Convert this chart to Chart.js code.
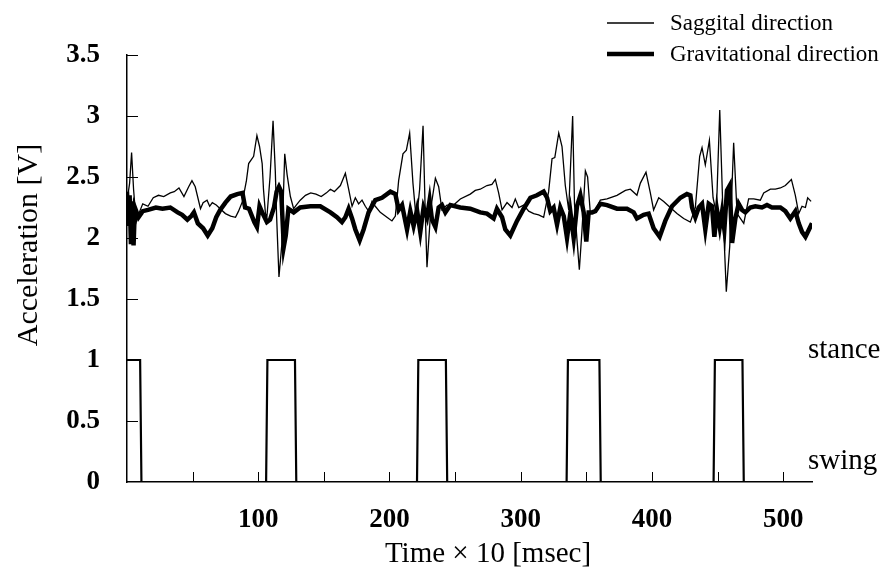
<!DOCTYPE html>
<html>
<head>
<meta charset="utf-8">
<title>Acceleration and gait phase</title>
<script src="https://cdn.jsdelivr.net/npm/chart.js@4.4.1/dist/chart.umd.min.js"></script>
<style>
    html, body { margin: 0; padding: 0; background: #fff; }
    canvas { display: block; }
</style>
</head>
<body>
<canvas id="gaitChart" width="892" height="577"></canvas>
<script>
// Sagittal acceleration (thin line): time x10 msec / volts
const sagTime = [0, 2, 3.5, 5, 7, 9, 12, 16, 20, 24, 28, 33, 36, 39.6, 43.4, 47, 49.5, 52, 56, 58, 61, 63, 65, 68, 71, 75, 79, 82.7, 85, 88, 91, 92.7, 96.5, 99, 101, 103, 104, 105.5, 106.6, 109, 111.3, 113, 114, 115.8, 118, 120.2, 122, 124.5, 127, 129, 132, 136, 140, 144, 148,
    152, 155, 158, 162.6, 164.5, 166.4, 168.9, 171.5, 174, 176.5, 179.1, 181.6, 184.1, 186.7, 189.2, 193, 198.1, 201.9, 204.5, 207, 210.3, 212.9, 215.4, 217.9, 220.5, 223, 225.6, 227.3, 228.6, 231.6, 235, 237.5, 240, 243.8, 248.9, 254, 261.6, 265.4, 269.2, 274.3, 278.1, 280.7, 283.2, 285.8, 289.6, 293.4, 295.9, 298.5, 302.3, 306.1, 309.9, 313.7, 317.5, 321.3, 323.9, 326, 329, 331.5, 334, 336.6, 339.6, 341, 342.8, 344.7, 346.7, 349.3, 351, 353.1, 356.9, 360.7, 365.8, 373.4, 379.8, 383.6, 388.6, 391.2, 395.5, 398.8, 401.3, 405.2, 409, 414, 419.1, 424.2, 429.3, 433.1, 436.4, 438.2, 440.7, 443.8, 446.6, 449.1, 451.7, 454, 456.7, 459.3, 462.3, 464.9, 467.4, 470, 473.7, 477.6, 482.6, 485.2, 490.3, 494.1, 497.9, 501.7, 506.3, 509.3, 511.9, 514.4, 517, 518.7, 521.3];
const sagValue = [2.30, 2.45, 2.70, 2.40, 2.13, 2.20, 2.28, 2.26, 2.33, 2.35, 2.34, 2.37, 2.38, 2.41, 2.34, 2.42, 2.47, 2.42, 2.24, 2.29, 2.31, 2.26, 2.29, 2.27, 2.24, 2.20, 2.18, 2.17, 2.22, 2.30, 2.47, 2.61, 2.67, 2.84, 2.75, 2.61, 2.40, 2.20, 2.17, 2.50, 2.96, 2.55, 2.18, 1.68, 1.95, 2.69, 2.52, 2.34, 2.24, 2.27, 2.31, 2.35, 2.37, 2.36, 2.34,
    2.37, 2.40, 2.38, 2.43, 2.48, 2.53, 2.40, 2.26, 2.33, 2.28, 2.31, 2.26, 2.22, 2.30, 2.26, 2.21, 2.17, 2.14, 2.18, 2.47, 2.69, 2.72, 2.86, 2.45, 2.14, 2.40, 2.92, 2.20, 1.76, 2.25, 2.49, 2.42, 2.23, 2.27, 2.27, 2.32, 2.36, 2.39, 2.40, 2.43, 2.44, 2.48, 2.37, 2.23, 2.29, 2.25, 2.32, 2.25, 2.27, 2.22, 2.20, 2.19, 2.17, 2.38, 2.65, 2.66, 2.86, 2.75, 2.43, 2.23, 3.00, 2.28, 2.00, 1.74, 2.06, 2.55, 2.50, 2.20, 2.23, 2.31, 2.32, 2.35, 2.39, 2.40, 2.35, 2.45, 2.54, 2.37, 2.23, 2.33, 2.30, 2.25, 2.20, 2.16, 2.13, 2.25, 2.67, 2.74, 2.60, 2.80, 2.33, 2.20, 3.05, 2.26, 1.56, 1.93, 2.78, 2.20, 2.16, 2.12, 2.32, 2.32, 2.31, 2.37, 2.40, 2.40, 2.41, 2.43, 2.48, 2.35, 2.20, 2.26, 2.25, 2.33, 2.30];

// Gravitational acceleration (thick line)
const gravTime = [0, 1, 2, 3, 4, 5, 6, 8.8, 12, 16, 22, 27, 33, 38.6, 42, 46, 49, 51, 54, 58, 61.5, 65, 68, 71, 75, 79, 84, 88, 90, 93, 97, 99, 101, 103, 106.6, 109, 112, 114, 115.8, 117.5, 119.5, 121, 123, 127, 132, 139.7, 147.3,
    155, 160, 163.8, 166.4, 168.9, 171.5, 174, 177.3, 180.3, 184.1, 189.2, 194.3, 200.7, 204.5, 207, 209.6, 213.4, 215.9, 218.4, 221, 223.5, 226, 228.6, 230.6, 232.4, 235, 237.5, 240, 242.6, 246.4, 254, 261.6, 269.2, 274.3, 279.4, 281.9, 285.8, 288.3, 292.1, 297.2, 302.3, 307.4, 312.4, 317.5, 320.1, 322.6, 325.1, 327.7, 330.2, 332.8, 335.3, 337.9, 340.4, 342.9, 345.5, 348, 350, 351.8, 354.4, 356.9, 360.7, 365.8, 373.4, 381, 386.1, 388.6, 393.7, 397.5, 401.3, 405.9, 410.2, 415.3, 421.7, 426.7, 429.3, 430.6, 433.1, 435.7, 438.2, 440.7, 443.3, 445.8, 447.6, 449.6, 451.7, 453.4, 455.2, 457.2, 459.3, 461.1, 463.6, 466.1, 468.7, 471.2, 475, 478.8, 483.9, 487.7, 491.5, 497.9, 501.7, 505.5, 509.3, 511.9, 514.4, 517, 522];
const gravValue = [2.38, 2.10, 2.35, 1.95, 2.30, 1.94, 2.25, 2.17, 2.22, 2.23, 2.25, 2.24, 2.25, 2.21, 2.19, 2.15, 2.18, 2.21, 2.12, 2.08, 2.02, 2.08, 2.17, 2.23, 2.29, 2.34, 2.36, 2.37, 2.25, 2.24, 2.13, 2.09, 2.26, 2.21, 2.13, 2.15, 2.25, 2.38, 2.42, 2.38, 1.93, 2.02, 2.24, 2.21, 2.25, 2.26, 2.26,
    2.21, 2.17, 2.13, 2.17, 2.24, 2.16, 2.07, 1.98, 2.07, 2.21, 2.31, 2.33, 2.38, 2.36, 2.23, 2.27, 2.07, 2.22, 2.10, 2.23, 2.05, 2.25, 2.17, 2.31, 2.15, 2.09, 2.25, 2.27, 2.21, 2.27, 2.25, 2.24, 2.21, 2.20, 2.16, 2.24, 2.17, 2.07, 2.02, 2.14, 2.24, 2.33, 2.35, 2.38, 2.33, 2.22, 2.25, 2.11, 2.25, 2.18, 2.00, 2.21, 2.00, 2.26, 2.35, 2.21, 1.97, 2.21, 2.21, 2.22, 2.28, 2.27, 2.24, 2.24, 2.21, 2.16, 2.19, 2.20, 2.08, 2.01, 2.14, 2.26, 2.33, 2.36, 2.35, 2.25, 2.17, 2.25, 2.28, 2.07, 2.28, 2.26, 2.01, 2.23, 2.09, 2.21, 2.07, 2.39, 2.43, 1.96, 2.16, 2.28, 2.23, 2.21, 2.25, 2.26, 2.25, 2.27, 2.25, 2.25, 2.22, 2.16, 2.22, 2.12, 2.05, 2.01, 2.12];

// Gait phase: 1 = stance, 0 = swing
const phaseTime = [0, 10, 11, 106, 107, 128, 129, 221, 222, 243, 244, 335, 336, 360, 361, 447, 448, 469, 470, 522];
const phaseValue = [1, 1, 0, 0, 1, 1, 0, 0, 1, 1, 0, 0, 1, 1, 0, 0, 1, 1, 0, 0];

const seriesNames = ["Saggital direction", "Gravitational direction"];
const phaseNames = ["swing", "stance"];
const yTicks = [0, 0.5, 1, 1.5, 2, 2.5, 3, 3.5];
const xLabels = [100, 200, 300, 400, 500];
const xTitle = "Time \u00d7 10 [msec]";
const yTitle = "Acceleration [V]";

const serif = "'Liberation Serif', 'Times New Roman', serif";

function toPoints(ts, vs) {
    return ts.map((t, i) => ({ x: t, y: vs[i] }));
}

// tick marks point into the plot, like the original figure
const inwardTicks = {
    id: "inwardTicks",
    afterDraw(chart) {
        const ctx = chart.ctx;
        const xs = chart.scales.x, ys = chart.scales.y;
        ctx.save();
        ctx.strokeStyle = "#000";
        ctx.lineWidth = 1;
        ctx.beginPath();
        for (let v = 50; v <= 500; v += 50) {
            const px = Math.round(xs.getPixelForValue(v)) + 0.5;
            ctx.moveTo(px, ys.bottom);
            ctx.lineTo(px, ys.bottom - 10);
        }
        yTicks.forEach(v => {
            if (v === 0) return;
            const py = Math.round(ys.getPixelForValue(v)) + 0.5;
            ctx.moveTo(xs.left, py);
            ctx.lineTo(xs.left + 11, py);
        });
        ctx.stroke();
        ctx.restore();
    }
};

// titles, legend and the stance/swing marks
const annotations = {
    id: "annotations",
    afterDraw(chart) {
        const ctx = chart.ctx;
        const ys = chart.scales.y;
        ctx.save();
        ctx.fillStyle = "#000";

        // y title
        ctx.save();
        ctx.translate(29, 245);
        ctx.rotate(-Math.PI / 2);
        ctx.font = "30px " + serif;
        ctx.textAlign = "center";
        ctx.textBaseline = "middle";
        ctx.fillText(yTitle, 0, 0);
        ctx.restore();

        // x title
        ctx.font = "29px " + serif;
        ctx.textAlign = "center";
        ctx.textBaseline = "alphabetic";
        ctx.fillText(xTitle, 488, 562);

        // stance / swing
        ctx.font = "29px " + serif;
        ctx.textAlign = "left";
        ctx.fillText(phaseNames[1], 808, ys.getPixelForValue(1) - 2);
        ctx.fillText(phaseNames[0], 808, ys.getPixelForValue(0) - 13);

        // legend
        const widths = [1.3, 4.5];
        const rows = [23, 54];
        ctx.font = "23px " + serif;
        seriesNames.forEach((name, i) => {
            ctx.beginPath();
            ctx.lineWidth = widths[i];
            ctx.moveTo(607, rows[i]);
            ctx.lineTo(654, rows[i]);
            ctx.stroke();
            ctx.fillText(name, 670, rows[i] + 7);
        });
        ctx.restore();
    }
};

const ctx = document.getElementById("gaitChart").getContext("2d");
new Chart(ctx, {
    type: "line",
    data: {
        datasets: [
            {
                label: seriesNames[1],
                data: toPoints(gravTime, gravValue),
                borderColor: "#000",
                borderWidth: 4.5,
                pointRadius: 0,
                tension: 0
            },
            {
                label: seriesNames[0],
                data: toPoints(sagTime, sagValue),
                borderColor: "#000",
                borderWidth: 1.3,
                pointRadius: 0,
                tension: 0
            },
            {
                label: "phase",
                data: toPoints(phaseTime, phaseValue),
                borderColor: "#000",
                borderWidth: 2.2,
                pointRadius: 0,
                tension: 0
            }
        ]
    },
    options: {
        responsive: false,
        animation: false,
        layout: { padding: { top: 55, right: 80, left: 0, bottom: 0 } },
        plugins: {
            legend: { display: false },
            tooltip: { enabled: false }
        },
        scales: {
            x: {
                type: "linear",
                min: 0,
                max: 522,
                afterFit: s => { s.height = 95; },
                grid: { display: false },
                border: { display: true, color: "#000", width: 1.5 },
                ticks: {
                    stepSize: 50,
                    includeBounds: false,
                    autoSkip: false,
                    maxRotation: 0,
                    padding: 14,
                    color: "#000",
                    font: { family: serif, size: 27, weight: "bold" },
                    callback: v => xLabels.includes(v) ? String(v) : ""
                }
            },
            y: {
                min: 0,
                max: 3.5,
                afterFit: s => { s.width = 127; },
                grid: { display: false },
                border: { display: true, color: "#000", width: 1.5 },
                ticks: {
                    stepSize: 0.5,
                    padding: 19,
                    color: "#000",
                    font: { family: serif, size: 27, weight: "bold" },
                    callback: v => String(Math.round(v * 10) / 10)
                }
            }
        }
    },
    plugins: [inwardTicks, annotations]
});
</script>
</body>
</html>
